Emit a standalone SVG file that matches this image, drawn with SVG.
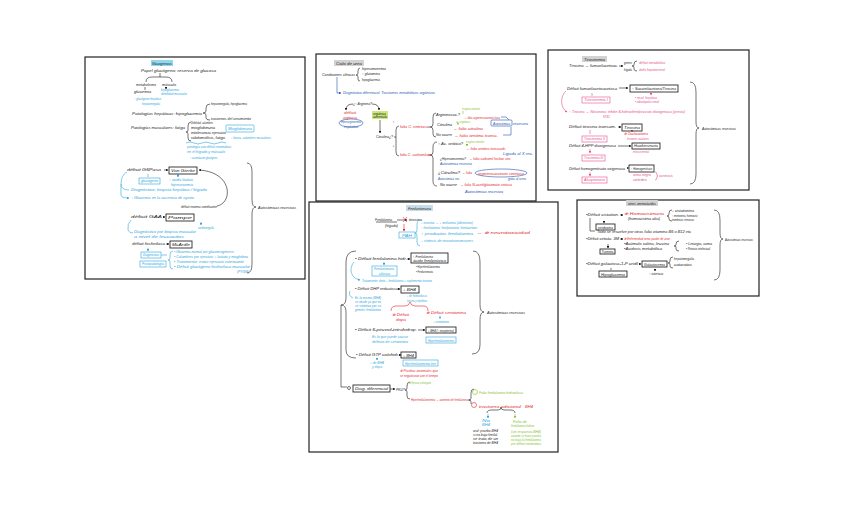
<svg xmlns="http://www.w3.org/2000/svg" width="848" height="505" viewBox="0 0 848 505">
<defs>
<style>
text{font-family:"Liberation Sans",Arial,sans-serif;font-style:italic;font-size:3.6px}
.xs{font-size:3px}
.k{fill:#1a1a1a}.c{fill:#2ea6dc}.n{fill:#2456b0}.r{fill:#e3262b}.g{fill:#86bf2f}.p{fill:#e5508c}
.sk{fill:none;stroke:#1a1a1a;stroke-width:.6}.sc{fill:none;stroke:#2ea6dc;stroke-width:.6}
.sn{fill:none;stroke:#2456b0;stroke-width:.6}.sr{fill:none;stroke:#e3262b;stroke-width:.6}
.sg{fill:none;stroke:#86bf2f;stroke-width:.6}.sp{fill:none;stroke:#e5508c;stroke-width:.6}
.bk{fill:none;stroke:#111;stroke-width:.8}.panel{fill:#fff;stroke:#222;stroke-width:1.2}
.hc{fill:#8fd8f0}.hg{fill:#d2d2d2}.hb{fill:#c9dde8}.hgr{fill:#cde87a}
</style>
<marker id="ak" viewBox="0 0 6 6" refX="5" refY="3" markerWidth="4" markerHeight="4" orient="auto"><path d="M0,0L6,3L0,6z" fill="#1a1a1a"/></marker>
<marker id="ac" viewBox="0 0 6 6" refX="5" refY="3" markerWidth="4" markerHeight="4" orient="auto"><path d="M0,0L6,3L0,6z" fill="#2ea6dc"/></marker>
<marker id="an" viewBox="0 0 6 6" refX="5" refY="3" markerWidth="4" markerHeight="4" orient="auto"><path d="M0,0L6,3L0,6z" fill="#2456b0"/></marker>
<marker id="ar" viewBox="0 0 6 6" refX="5" refY="3" markerWidth="4" markerHeight="4" orient="auto"><path d="M0,0L6,3L0,6z" fill="#e3262b"/></marker>
<marker id="ag" viewBox="0 0 6 6" refX="5" refY="3" markerWidth="4" markerHeight="4" orient="auto"><path d="M0,0L6,3L0,6z" fill="#86bf2f"/></marker>
<marker id="ap" viewBox="0 0 6 6" refX="5" refY="3" markerWidth="4" markerHeight="4" orient="auto"><path d="M0,0L6,3L0,6z" fill="#e5508c"/></marker>
</defs>
<rect width="848" height="505" fill="#fff"/>

<g id="panels">
<rect id="panel-glucogenosis" class="panel" x="85" y="57" width="220" height="222"/>
<rect id="panel-urea" class="panel" x="316" y="54" width="220" height="147"/>
<rect id="panel-tirosinemia" class="panel" x="548" y="50" width="201" height="140"/>
<rect id="panel-fenilcetonuria" class="panel" x="309" y="202" width="249" height="250"/>
<rect id="panel-otros" class="panel" x="577" y="200" width="182" height="96"/>
</g>

<g id="connectors">
<!-- panel 1 -->
<path class="sk" d="M160,73V77M146,82Q146,77 152,77H166Q172,77 172,82"/>
<path class="sk" d="M145,87V90M166,87V89" marker-end="url(#ak)"/>
<path class="sk" d="M210,104Q206,104 206,108V111Q206,113 203,113Q206,113 206,115V118Q206,120 210,120"/>
<path class="sk" d="M191,122Q188,122 188,126V130Q188,132 186,132Q188,132 188,134V138Q188,141 191,141"/>
<path class="sc" d="M186,143Q190,141 194,143T202,143T210,143T218,143T226,143"/>
<path class="sk" d="M164,170H168" marker-end="url(#ak)"/>
<path class="sk" d="M217,206C233,203 233,172 199,170" marker-end="url(#ak)"/>
<path class="sc" d="M148,174V177M178,174V177" marker-end="url(#ac)"/>
<path class="sc" d="M127,172Q121,175 121,184Q121,190 129,190M121,184V195Q121,198 129,198" marker-end="url(#ac)"/>
<path class="sk" d="M163,217H165" marker-end="url(#ak)"/>
<path class="sc" d="M201,222V225" marker-end="url(#ac)"/>
<path class="sc" d="M131,220Q127,224 128,230Q129,233 133,233"/>
<path class="sk" d="M166,244H169" marker-end="url(#ak)"/>
<path class="sc" d="M148,248V251" marker-end="url(#ac)"/>
<path class="sc" d="M161,255H167M173,251Q170,251 170,255V258Q170,260 168,260Q170,260 170,262V266Q170,269 173,269"/>
<path class="sk" d="M247,163Q252,163 252,172V200Q252,207 256,207Q252,207 252,214V264Q252,273 247,273"/>
<!-- panel 2 -->
<path class="sk" d="M360,68Q358,68 358,71V73Q358,75 356,75Q358,75 358,77V79Q358,81 360,81"/>
<path class="sn" d="M337,77V93H341" marker-end="url(#an)"/>
<path class="sk" d="M353,104Q346,104 346,110" marker-end="url(#ak)"/>
<path class="sk" d="M372,104Q379,104 379,110" marker-end="url(#ak)"/>
<path class="sn" d="M339,123a12,4 0 1,0 24,0a12,4 0 1,0 -24,0"/>
<path class="sk" d="M380,120V133" marker-end="url(#ak)"/>
<path class="sk" d="M394,137H396M399,126Q396,126 396,130V152Q396,156 399,156"/>
<path class="sk" d="M428,127H430M436,113Q433,113 433,117V124Q433,127 430,127Q433,127 433,130V134Q433,137 436,137"/>
<path class="sk" d="M428,155H430M437,142Q433,142 433,147V152Q433,155 430,155Q433,155 433,158V181Q433,186 437,186"/>
<path class="sg" d="M463,111V114M458,123.5V124.5" marker-end="url(#ag)"/>
<path class="sg" d="M467,144V146" marker-end="url(#ag)"/>
<path class="sn" d="M501,117H506L509,120M511,127V135H503"/>
<path class="sn" d="M475,173a26,4 0 1,0 52,0a26,4 0 1,0 -52,0"/>
<!-- panel 3 -->
<path class="sk" d="M619,66H623" marker-end="url(#ak)"/>
<path class="sk" d="M637,61Q634,61 634,64V65Q634,66 632,66Q634,66 634,67V69Q634,71 637,71"/>
<path class="sk" d="M619,88H628" marker-end="url(#ak)"/>
<path class="sp" d="M592,93V96M651,93V95" marker-end="url(#ap)"/>
<path class="sp" d="M566,91C560,96 560,108 567,112" marker-end="url(#ap)"/>
<path class="sk" d="M618,127H621" marker-end="url(#ak)"/>
<path class="sp" d="M590,130V134M632,131V132" marker-end="url(#ap)"/>
<path class="sk" d="M618,146H631" marker-end="url(#ak)"/>
<path class="sp" d="M590,149V153" marker-end="url(#ap)"/>
<path class="sk" d="M627,168H628.5" marker-end="url(#ak)"/>
<path class="sp" d="M590,172V176" marker-end="url(#ap)"/>
<path class="sp" d="M655,172Q657,172 657,175Q657,176 658,176Q657,176 657,177Q657,180 655,180"/>
<path class="sk" d="M690,82Q696,82 696,92V122Q696,128 699,128Q696,128 696,134V174Q696,184 690,184"/>
<!-- panel 4 -->
<path class="sk" d="M376,222H397"/>
<path class="sk" d="M397,220H407" marker-end="url(#ak)"/>
<path class="sr" d="M403,217L407,222M407,217L403,222"/>
<path class="sr" d="M404,224V231" marker-end="url(#ar)"/>
<path class="sc" d="M420,220Q417,220 417,225V230Q417,233 415,233Q417,233 417,236V242Q417,246 420,246"/>
<path class="sk" d="M356,251Q346,251 346,262V298Q346,305 341,305Q346,305 346,312V350Q346,358 356,358"/>
<path class="sk" d="M341,305V387H347"/>
<path class="sk" d="M473,251Q480,251 480,262V305Q480,312 484,312Q480,312 480,320V345Q480,354 472,354"/>
<path class="sk" d="M407,259H410" marker-end="url(#ak)"/>
<path class="sc" d="M384,262V265" marker-end="url(#ac)"/>
<path class="sc" d="M354,262C349,268 350,278 360,280" marker-end="url(#ac)"/>
<path class="sk" d="M398,289H400" marker-end="url(#ak)"/>
<path class="sc" d="M350,291Q348,296 353,298"/>
<path class="sr" d="M391,311Q391,306 396,306H405Q409,306 410,302Q411,306 415,306H424Q428,306 428,311"/>
<path class="sc" d="M440,315.5V318.5" marker-end="url(#ac)"/>
<path class="sk" d="M418,330H425" marker-end="url(#ak)"/>
<path class="sk" d="M400,355H401" marker-end="url(#ak)"/>
<path class="sc" d="M377,358V360" marker-end="url(#ac)"/>
<circle class="sk" cx="349" cy="388" r="1.5"/>
<path class="sk" d="M390,389H395" marker-end="url(#ak)"/>
<path class="sk" d="M410,382Q407,382 407,386V388Q407,390 405,390Q407,390 407,392V396Q407,399 410,399"/>
<circle class="sg" cx="475" cy="392" r="2.5"/>
<circle class="sr" cx="474" cy="405" r="2.5"/>
<path class="sk" d="M468,400H470M474,389Q471,389 471,393V398Q471,400 469,400Q471,400 471,402V404"/>
<path class="sk" d="M487,413Q487,410 492,410H498Q501,410 501,407Q501,410 504,410H510Q515,410 515,413"/>
<path class="sc" d="M488,414V418" marker-end="url(#ac)"/>
<path class="sg" d="M515,414V418" marker-end="url(#ag)"/>
<!-- panel 5 -->
<path class="sk" d="M620,215H623" marker-end="url(#ak)"/>
<path class="sk" d="M672,210Q669,210 669,213V214Q669,216 667,216Q669,216 669,218V219Q669,221 672,221"/>
<path class="sk" d="M604,221V223" marker-end="url(#ak)"/>
<path class="sk" d="M590,218V231H595"/>
<path class="sk" d="M620,239H623" marker-end="url(#ak)"/>
<path class="sk" d="M679,241Q676,241 676,244V245Q676,246 674,246Q676,246 676,247V249Q676,251 679,251"/>
<path class="sk" d="M608,244V248" marker-end="url(#ak)"/>
<path class="sk" d="M639,264H641" marker-end="url(#ak)"/>
<path class="sk" d="M673,257Q670,257 670,260V261Q670,263 668,263Q670,263 670,264V266Q670,268 673,268"/>
<path class="sk" d="M611,268V270M655,269V271" marker-end="url(#ak)"/>
<path class="sk" d="M714,210Q720,210 720,220V233Q720,239 723,239Q720,239 720,245V270Q720,280 714,280"/>
</g>

<!-- panel 1 nodes -->
<g id="p1-title"><rect class="hc" x="151" y="60" width="22" height="6"/><text class="k" x="152" y="65" textLength="20" lengthAdjust="spacingAndGlyphs">Glucogenosis</text></g>
<g id="p1-papel"><text class="k" x="141" y="72" textLength="75" lengthAdjust="spacingAndGlyphs">Papel glucógeno: reserva de glucosa</text>
<text class="k" x="136" y="86" textLength="20" lengthAdjust="spacingAndGlyphs">metabolismo</text>
<text class="k" x="162" y="86" textLength="14" lengthAdjust="spacingAndGlyphs">músculo</text>
<text class="k" x="134" y="93" textLength="17" lengthAdjust="spacingAndGlyphs">glucemia</text>
<text class="c" x="161" y="90.5" textLength="18" lengthAdjust="spacingAndGlyphs">hipoglucemia</text>
<text class="c" x="161" y="95" textLength="26" lengthAdjust="spacingAndGlyphs">debilidad muscular</text>
<text class="c" x="134" y="100" textLength="27" lengthAdjust="spacingAndGlyphs">↑ glucógeno hepático</text>
<text class="c" x="142" y="104.5" textLength="18" lengthAdjust="spacingAndGlyphs">hepatomegalia</text></g>
<g id="p1-hepaticas"><text class="k" x="132" y="115" textLength="70" lengthAdjust="spacingAndGlyphs">Patologías hepáticas: hipoglucemia</text>
<text class="k" x="211" y="105" textLength="36" lengthAdjust="spacingAndGlyphs">hepatomegalia, hipoglucemia</text>
<text class="k" x="211" y="119.5" textLength="40" lengthAdjust="spacingAndGlyphs">trastornos del crecimiento</text></g>
<g id="p1-musculares"><text class="k" x="131" y="129" textLength="54" lengthAdjust="spacingAndGlyphs">Patologías musculares: fatiga</text>
<text class="k" x="191" y="124" textLength="22" lengthAdjust="spacingAndGlyphs">Debilidad, calambres</text>
<text class="k" x="191" y="129" textLength="24" lengthAdjust="spacingAndGlyphs">mioglobinuria</text>
<text class="k" x="191" y="134" textLength="35" lengthAdjust="spacingAndGlyphs">intolerancia ejercicio</text>
<text class="k" x="191" y="139" textLength="34" lengthAdjust="spacingAndGlyphs">rabdomiólisis, fatiga</text>
<rect x="226" y="125" width="28" height="7" rx="1" class="sc"/><text class="c" x="228" y="130" textLength="24" lengthAdjust="spacingAndGlyphs">Mioglobinuria</text>
<text class="c" x="231" y="138.5" textLength="40" lengthAdjust="spacingAndGlyphs">↓ fuerza, calambres musculares</text>
<text class="c" x="187" y="148" textLength="44" lengthAdjust="spacingAndGlyphs">patología con déficit enzimático</text>
<text class="c" x="187" y="153" textLength="38" lengthAdjust="spacingAndGlyphs">en el hígado y músculo</text>
<text class="c" x="190" y="159" textLength="27" lengthAdjust="spacingAndGlyphs">↑ acumulación glucógeno</text></g>
<g id="p1-vongierke"><text class="k" x="127" y="171" textLength="34" lengthAdjust="spacingAndGlyphs">déficit G6Pasa</text>
<rect class="bk" x="169" y="167" width="28" height="7"/><text class="k" x="171" y="172" textLength="24" lengthAdjust="spacingAndGlyphs">Von Gierke</text>
<rect class="sc" x="139" y="178" width="21" height="6"/><text class="c" x="141" y="182" textLength="17" lengthAdjust="spacingAndGlyphs">glucógeno</text>
<text class="c" x="169" y="181" textLength="24" lengthAdjust="spacingAndGlyphs">↑ ácido láctico</text>
<text class="c" x="171" y="186" textLength="22" lengthAdjust="spacingAndGlyphs">hiperuricemia</text>
<text class="c" x="131" y="191" textLength="76" lengthAdjust="spacingAndGlyphs">Diagnóstico: biopsia hepática / hígado</text>
<text class="c" x="131" y="199" textLength="63" lengthAdjust="spacingAndGlyphs">↑ Glucemia en la ausencia de ayuno</text>
<text class="k" x="181" y="208" textLength="36" lengthAdjust="spacingAndGlyphs">déficit enzima ramificante</text></g>
<g id="p1-pompe"><text class="k" x="131" y="218" textLength="31" lengthAdjust="spacingAndGlyphs">déficit GAA</text>
<rect class="bk" x="166" y="214" width="28" height="7"/><text class="k" x="168" y="219" textLength="24" lengthAdjust="spacingAndGlyphs">Pompe</text>
<text class="c" x="198" y="229" textLength="16" lengthAdjust="spacingAndGlyphs">cardiomegalia</text>
<text class="c" x="134" y="233" textLength="62" lengthAdjust="spacingAndGlyphs">Diagnóstico por biopsia muscular</text>
<text class="c" x="134" y="238" textLength="50" lengthAdjust="spacingAndGlyphs">a nivel de leucocitos</text></g>
<g id="p1-mcardle"><text class="k" x="132" y="245" textLength="33" lengthAdjust="spacingAndGlyphs">déficit fosforilasa</text>
<rect class="bk" x="170" y="241" width="22" height="7"/><text class="k" x="172" y="246" textLength="18" lengthAdjust="spacingAndGlyphs">McArdle</text>
<rect class="sc" x="141" y="252" width="20" height="6"/><text class="c" x="143" y="256" textLength="16" lengthAdjust="spacingAndGlyphs">Diagnóstico</text>
<rect class="sc" x="140" y="261" width="26" height="6"/><text class="c" x="142" y="265" textLength="22" lengthAdjust="spacingAndGlyphs">Fisiopatología</text>
<text class="c" x="174" y="253" textLength="60" lengthAdjust="spacingAndGlyphs">• Glucemia normal por gluconeogénesis</text>
<text class="c" x="174" y="258" textLength="74" lengthAdjust="spacingAndGlyphs">• Calambres por ejercicio: ↓ lactato y mioglobina</text>
<text class="c" x="174" y="263" textLength="70" lengthAdjust="spacingAndGlyphs">• Tratamiento: evitar ejercicio extenuante</text>
<text class="c" x="174" y="268" textLength="76" lengthAdjust="spacingAndGlyphs">• Déficit glucógeno fosforilasa muscular</text>
<text class="c" x="237" y="273" textLength="12" lengthAdjust="spacingAndGlyphs">(PYGM)</text></g>
<g id="p1-herencia"><text class="k" x="258" y="209" textLength="38" lengthAdjust="spacingAndGlyphs">Autosómicas recesivas</text></g>

<!-- panel 2 nodes -->
<g id="p2-title"><rect class="hg" x="334" y="60" width="30" height="6"/><text class="k" x="336" y="65" textLength="26" lengthAdjust="spacingAndGlyphs">Ciclo de urea</text></g>
<g id="p2-clinica"><text class="k" x="322" y="76" textLength="33" lengthAdjust="spacingAndGlyphs">Condiciones clínicas</text>
<text class="k" x="362" y="70" textLength="24" lengthAdjust="spacingAndGlyphs">hiperamonemia</text>
<text class="k" x="362" y="75" textLength="18" lengthAdjust="spacingAndGlyphs">↑ glutamina</text>
<text class="k" x="362" y="81" textLength="18" lengthAdjust="spacingAndGlyphs">hipoglucemia</text>
<text class="n" x="343" y="94" textLength="92" lengthAdjust="spacingAndGlyphs">Diagnóstico diferencial: Trastornos metabólicos orgánicos</text></g>
<g id="p2-arginina"><text class="k" x="353" y="105" textLength="19" lengthAdjust="spacingAndGlyphs">¿↑ Arginina?</text>
<text class="r" x="344" y="114" textLength="12" lengthAdjust="spacingAndGlyphs">déficit</text>
<text class="r" x="343" y="118.5" textLength="14" lengthAdjust="spacingAndGlyphs">arginasa</text>
<text class="n" x="341" y="123" textLength="20" lengthAdjust="spacingAndGlyphs">Hiperargininemia</text>
<text class="n" x="344" y="127.5" textLength="14" lengthAdjust="spacingAndGlyphs">espástica</text>
<rect class="hgr" x="372" y="111" width="16" height="8"/><text class="k xs" x="373" y="114.5" textLength="13" lengthAdjust="spacingAndGlyphs">orgánico</text><text class="k xs" x="373" y="118" textLength="14" lengthAdjust="spacingAndGlyphs">aumentado</text>
<text class="k" x="376" y="138" textLength="17" lengthAdjust="spacingAndGlyphs">Citrulina¿?</text>
<text class="r" x="392" y="123" textLength="3" lengthAdjust="spacingAndGlyphs">↑</text>
<text class="r" x="400" y="128" textLength="28" lengthAdjust="spacingAndGlyphs">falta C. sintetasa</text>
<text class="r" x="392" y="147" textLength="3" lengthAdjust="spacingAndGlyphs">↓</text>
<text class="r" x="400" y="156" textLength="32" lengthAdjust="spacingAndGlyphs">falta C. carbamilasa</text></g>
<g id="p2-upper"><text class="k" x="436" y="116" textLength="24" lengthAdjust="spacingAndGlyphs">Argininosuc.?</text>
<text class="g" x="462" y="110" textLength="18" lengthAdjust="spacingAndGlyphs">⊕ orgánico aumentado</text>
<text class="r" x="464" y="118.5" textLength="36" lengthAdjust="spacingAndGlyphs">→ falta argininosuccinato liasa</text>
<text class="k" x="437" y="126" textLength="15" lengthAdjust="spacingAndGlyphs">Citrulina</text>
<text class="g xs" x="456" y="123" textLength="14" lengthAdjust="spacingAndGlyphs">⊕ orgánico</text>
<text class="r" x="453" y="129.5" textLength="30" lengthAdjust="spacingAndGlyphs">→ falta citrulina</text>
<rect class="sn" x="491" y="120" width="21" height="6" rx="1"/><text class="n" x="493" y="124.5" textLength="17" lengthAdjust="spacingAndGlyphs">Autosómica</text>
<text class="n" x="513" y="124.5" textLength="15" lengthAdjust="spacingAndGlyphs">recesiva</text>
<text class="k" x="436" y="136" textLength="16" lengthAdjust="spacingAndGlyphs">No ocurre</text>
<text class="r" x="454" y="137" textLength="44" lengthAdjust="spacingAndGlyphs">→ falta ornitina transc.</text></g>
<g id="p2-lower"><text class="k" x="438" y="145" textLength="25" lengthAdjust="spacingAndGlyphs">↑ Ac. orótico?</text>
<text class="g" x="466" y="143" textLength="18" lengthAdjust="spacingAndGlyphs">⊕ orgánico aumentado</text>
<text class="r" x="466" y="150" textLength="40" lengthAdjust="spacingAndGlyphs">→ falta ornitina transcarb.</text>
<text class="n" x="503" y="155" textLength="30" lengthAdjust="spacingAndGlyphs">Ligada al X rec.</text>
<text class="k" x="440" y="160" textLength="26" lengthAdjust="spacingAndGlyphs">¿Hiperamonemia?</text>
<text class="r" x="469" y="160" textLength="42" lengthAdjust="spacingAndGlyphs">→ falta carbamil fosfato sint.</text>
<text class="n" x="440" y="165" textLength="32" lengthAdjust="spacingAndGlyphs">Autosómica recesiva</text>
<text class="k" x="438" y="174" textLength="22" lengthAdjust="spacingAndGlyphs">¿Citrulina?</text>
<text class="r" x="462" y="174" textLength="10" lengthAdjust="spacingAndGlyphs">→ falta</text>
<text class="r" x="478" y="174.5" textLength="46" lengthAdjust="spacingAndGlyphs">argininosuccinato sintetasa</text>
<text class="n" x="508" y="180" textLength="18" lengthAdjust="spacingAndGlyphs">gota al cero</text>
<text class="n" x="438" y="180" textLength="22" lengthAdjust="spacingAndGlyphs">Autosómica rec.</text>
<text class="k" x="440" y="186" textLength="17" lengthAdjust="spacingAndGlyphs">No ocurre</text>
<text class="r" x="460" y="186" textLength="52" lengthAdjust="spacingAndGlyphs">→ falta N-acetilglutamato sintasa</text>
<text class="n" x="465" y="193" textLength="38" lengthAdjust="spacingAndGlyphs">Autosómica recesiva</text></g>

<!-- panel 3 nodes -->
<g id="p3-title"><rect class="hg" x="582" y="56" width="25" height="6"/><text class="k" x="584" y="61" textLength="21" lengthAdjust="spacingAndGlyphs">Tirosinemia</text></g>
<g id="p3-tirosina"><text class="k" x="569" y="67" textLength="49" lengthAdjust="spacingAndGlyphs">Tirosina → fumarilacetoac.</text>
<text class="k xs" x="624" y="64" textLength="8" lengthAdjust="spacingAndGlyphs">genes</text>
<text class="k xs" x="624" y="71" textLength="8" lengthAdjust="spacingAndGlyphs">hígado</text>
<text class="p" x="639" y="64" textLength="26" lengthAdjust="spacingAndGlyphs">déficit metabólico</text>
<text class="p" x="639" y="71" textLength="26" lengthAdjust="spacingAndGlyphs">daño hepatorrenal</text></g>
<g id="p3-tipo1"><text class="k" x="567" y="90" textLength="50" lengthAdjust="spacingAndGlyphs">Déficit fumarilacetoacetasa</text>
<rect class="bk" x="630" y="85" width="48" height="7"/><text class="k" x="632" y="90" textLength="44" lengthAdjust="spacingAndGlyphs">↑ Succinilacetona/Tirosina</text>
<rect class="sp" x="582" y="97" width="28" height="6"/><text class="p" x="584" y="101" textLength="24" lengthAdjust="spacingAndGlyphs">Tirosinemia I</text>
<text class="p" x="635" y="98.5" textLength="22" lengthAdjust="spacingAndGlyphs">• insuf. hepática</text>
<text class="p" x="635" y="103" textLength="24" lengthAdjust="spacingAndGlyphs">• tubulopatía renal</text>
<text class="p" x="569" y="113" textLength="116" lengthAdjust="spacingAndGlyphs">↑ Tirosina → Nitisinona: inhibe 4-hidroxifenilpiruvato dioxigenasa (previa)</text>
<text class="p" x="603" y="117.5" textLength="7" lengthAdjust="spacingAndGlyphs">NTBC</text></g>
<g id="p3-tipo2"><text class="k" x="569" y="128" textLength="47" lengthAdjust="spacingAndGlyphs">Déficit tirosina transam.</text>
<rect class="bk" x="622" y="124" width="20" height="7"/><text class="k" x="624" y="129" textLength="16" lengthAdjust="spacingAndGlyphs">Tirosina</text>
<text class="r" x="624" y="135" textLength="24" lengthAdjust="spacingAndGlyphs">⊕ Oculocutánea</text>
<text class="p" x="627" y="139.5" textLength="22" lengthAdjust="spacingAndGlyphs">lesiones oculares</text>
<rect class="sp" x="582" y="136" width="25" height="6"/><text class="p" x="584" y="140" textLength="21" lengthAdjust="spacingAndGlyphs">Tirosinemia II</text></g>
<g id="p3-tipo3"><text class="k" x="569" y="147" textLength="47" lengthAdjust="spacingAndGlyphs">Déficit 4-HPP dioxigenasa</text>
<rect class="bk" x="632" y="143" width="28" height="6"/><text class="k" x="634" y="147" textLength="24" lengthAdjust="spacingAndGlyphs">Hawkinsinuria</text>
<text class="p" x="633" y="153" textLength="16" lengthAdjust="spacingAndGlyphs">retraso mental</text>
<rect class="sp" x="582" y="155" width="23" height="6"/><text class="p" x="584" y="159" textLength="19" lengthAdjust="spacingAndGlyphs">Tirosinemia III</text></g>
<g id="p3-alcaptonuria"><text class="k" x="569" y="170" textLength="56" lengthAdjust="spacingAndGlyphs">Déficit homogentisato oxigenasa</text>
<rect class="bk" x="629" y="165" width="25" height="7"/><text class="k" x="631" y="170" textLength="21" lengthAdjust="spacingAndGlyphs">↑ Homogentísico</text>
<text class="p" x="633" y="176" textLength="18" lengthAdjust="spacingAndGlyphs">orina negra</text>
<text class="p" x="633" y="180.5" textLength="14" lengthAdjust="spacingAndGlyphs">artritis</text>
<text class="p" x="659" y="177" textLength="14" lengthAdjust="spacingAndGlyphs">ocronosis</text>
<rect class="sp" x="582" y="177" width="25" height="6"/><text class="p" x="584" y="181" textLength="21" lengthAdjust="spacingAndGlyphs">Alcaptonuria</text></g>
<g id="p3-herencia"><text class="k" x="702" y="130" textLength="34" lengthAdjust="spacingAndGlyphs">Autosómicas recesivas</text></g>

<!-- panel 4 nodes -->
<g id="p4-title"><rect class="hb" x="406" y="205" width="27" height="6"/><text class="k" x="408" y="210" textLength="23" lengthAdjust="spacingAndGlyphs">Fenilcetonuria</text></g>
<g id="p4-fenilalanina"><text class="k" x="375" y="221" textLength="17" lengthAdjust="spacingAndGlyphs">Fenilalanina</text>
<text class="k" x="385" y="227" textLength="13" lengthAdjust="spacingAndGlyphs">(hígado)</text>
<text class="k" x="409" y="221" textLength="13" lengthAdjust="spacingAndGlyphs">tirosina</text>
<rect class="sc" x="399" y="232" width="16" height="6"/><text class="c" x="402" y="236.5" textLength="10" lengthAdjust="spacingAndGlyphs">PAH</text>
<text class="c" x="421" y="224" textLength="52" lengthAdjust="spacingAndGlyphs">↓ tirosina → ↓ melanina (albinismo)</text>
<text class="c" x="421" y="229" textLength="56" lengthAdjust="spacingAndGlyphs">↑ fenilalanina: fenilpiruvato, fenilacetato</text>
<text class="c" x="421" y="235" textLength="52" lengthAdjust="spacingAndGlyphs">↑ productos fenilalanina</text>
<text class="r" x="476" y="234" textLength="54" lengthAdjust="spacingAndGlyphs">→ ⊕ neurotoxicidad</text>
<text class="c" x="421" y="242" textLength="52" lengthAdjust="spacingAndGlyphs">↓ síntesis de neurotransmisores</text></g>
<g id="p4-pah"><text class="k" x="355" y="260" textLength="52" lengthAdjust="spacingAndGlyphs">• Déficit fenilalanina hidr.</text>
<rect class="bk" x="411" y="253" width="37" height="10"/><text class="k" x="413" y="257.5" textLength="20" lengthAdjust="spacingAndGlyphs">↑ Fenilalanina</text><text class="k" x="413" y="262" textLength="33" lengthAdjust="spacingAndGlyphs">ácido fenilpirúvico</text>
<text class="k" x="416" y="268" textLength="24" lengthAdjust="spacingAndGlyphs">• Hiperfenilalaninemia</text>
<text class="k" x="416" y="273" textLength="17" lengthAdjust="spacingAndGlyphs">• Fenilcetonuria</text>
<rect class="sc" x="372" y="266" width="25" height="10"/><text class="c" x="374" y="270" textLength="20" lengthAdjust="spacingAndGlyphs">Fenilcetonuria</text><text class="c" x="379" y="275" textLength="11" lengthAdjust="spacingAndGlyphs">clásica</text>
<text class="c" x="362" y="281.5" textLength="70" lengthAdjust="spacingAndGlyphs">Tratamiento: dieta ↓ fenilalanina + suplemento tirosina</text></g>
<g id="p4-dhpr"><text class="k" x="355" y="290" textLength="43" lengthAdjust="spacingAndGlyphs">• Déficit DHP reductasa</text>
<rect class="bk" x="401" y="286" width="18" height="7"/><text class="k" x="403" y="291" textLength="13" lengthAdjust="spacingAndGlyphs">↓ BH4</text>
<text class="c" x="407" y="297.3" textLength="20" lengthAdjust="spacingAndGlyphs">↓ de hidroxilasas</text>
<text class="c" x="407" y="301.6" textLength="20" lengthAdjust="spacingAndGlyphs">tirosina y triptófano</text>
<text class="c" x="355" y="298.8" textLength="26" lengthAdjust="spacingAndGlyphs">Es lo mismo (BH4)</text>
<text class="c" x="355" y="303" textLength="26" lengthAdjust="spacingAndGlyphs">se añade ya que no</text>
<text class="c" x="355" y="307.2" textLength="26" lengthAdjust="spacingAndGlyphs">se sintetiza por su</text>
<text class="c" x="355" y="311.4" textLength="26" lengthAdjust="spacingAndGlyphs">gemela: fenilalanina</text>
<text class="r" x="392" y="316" textLength="17" lengthAdjust="spacingAndGlyphs">⊕ Déficit</text>
<text class="r" x="396" y="321" textLength="10" lengthAdjust="spacingAndGlyphs">dopa</text>
<text class="r" x="426" y="314" textLength="40" lengthAdjust="spacingAndGlyphs">⊕ Déficit serotonina</text>
<text class="c" x="433" y="323" textLength="16" lengthAdjust="spacingAndGlyphs">↓ serotonina</text></g>
<g id="p4-ptps"><text class="k" x="355" y="331" textLength="62" lengthAdjust="spacingAndGlyphs">• Déficit 6-piruvoil-tetrahidrop.</text>
<rect class="bk" x="426" y="327" width="30" height="6"/><text class="k" x="428" y="331.5" textLength="26" lengthAdjust="spacingAndGlyphs">↓ BH4 (↑ neopterina)</text>
<text class="c" x="372" y="338" textLength="36" lengthAdjust="spacingAndGlyphs">Es lo que puede causar</text>
<text class="c" x="372" y="343" textLength="36" lengthAdjust="spacingAndGlyphs">defecto de serotonina</text>
<rect class="sc" x="426" y="337" width="30" height="6"/><text class="c" x="428" y="341.5" textLength="26" lengthAdjust="spacingAndGlyphs">Hiperfenilalaninemia</text></g>
<g id="p4-gtp"><text class="k" x="356" y="356" textLength="43" lengthAdjust="spacingAndGlyphs">• Déficit GTP ciclohidr.</text>
<rect class="bk" x="401" y="352" width="15" height="6"/><text class="k" x="403" y="356.5" textLength="11" lengthAdjust="spacingAndGlyphs">↓ BH4</text>
<text class="c" x="370" y="364" textLength="14" lengthAdjust="spacingAndGlyphs">↓ de BH4</text>
<text class="c" x="372" y="368.3" textLength="10" lengthAdjust="spacingAndGlyphs">y dopa</text>
<rect class="sc" x="403" y="360" width="35" height="6"/><text class="c" x="405" y="364.5" textLength="31" lengthAdjust="spacingAndGlyphs">Hiperfenilalaninemia leve</text>
<text class="r" x="400" y="372" textLength="38" lengthAdjust="spacingAndGlyphs">⊕ Pruebas anormales que</text>
<text class="r" x="400" y="377" textLength="38" lengthAdjust="spacingAndGlyphs">se negativizan con el tiempo</text></g>
<g id="p4-herencia"><text class="k" x="487" y="314" textLength="38" lengthAdjust="spacingAndGlyphs">Autosómicas recesivas</text></g>
<g id="p4-diagnostico"><rect class="bk" x="353" y="385" width="37" height="7"/><text class="k" x="355" y="390" textLength="33" lengthAdjust="spacingAndGlyphs">Diag. diferencial</text>
<text class="k" x="396" y="391" textLength="9" lengthAdjust="spacingAndGlyphs">PKU?</text>
<text class="g" x="409" y="384" textLength="22" lengthAdjust="spacingAndGlyphs">⊕ Ejercicio prolongado</text>
<text class="r" x="411" y="401" textLength="57" lengthAdjust="spacingAndGlyphs">Hiperfenilalaninemia → aumento de fenilalanina</text>
<text class="g" x="479" y="393.5" textLength="44" lengthAdjust="spacingAndGlyphs">Falta fenilalanina hidroxilasa</text>
<text class="r" x="479" y="408" textLength="42" lengthAdjust="spacingAndGlyphs">trastorno adicional</text>
<text class="r" x="525" y="408" textLength="8" lengthAdjust="spacingAndGlyphs">BH4</text>
<text class="c" x="482" y="422" textLength="8" lengthAdjust="spacingAndGlyphs">No</text>
<text class="c" x="482" y="426.3" textLength="8" lengthAdjust="spacingAndGlyphs">BH4</text>
<text class="k" x="473" y="431.5" textLength="25" lengthAdjust="spacingAndGlyphs">oral: prueba BH4</text>
<text class="k" x="473" y="435.7" textLength="25" lengthAdjust="spacingAndGlyphs">si no baja fenilal.</text>
<text class="k" x="473" y="439.9" textLength="25" lengthAdjust="spacingAndGlyphs">se trata de un</text>
<text class="k" x="473" y="444.1" textLength="25" lengthAdjust="spacingAndGlyphs">trastorno de BH4</text>
<text class="g" x="513" y="423" textLength="14" lengthAdjust="spacingAndGlyphs">Falta de</text>
<text class="g" x="511" y="427.2" textLength="24" lengthAdjust="spacingAndGlyphs">fenilalanina hidrox.</text>
<text class="g" x="511" y="432.5" textLength="30" lengthAdjust="spacingAndGlyphs">(sin respuesta BH4)</text>
<text class="g" x="511" y="436.7" textLength="30" lengthAdjust="spacingAndGlyphs">cuando se hace prueba</text>
<text class="g" x="511" y="440.9" textLength="30" lengthAdjust="spacingAndGlyphs">no baja la fenilalanina</text>
<text class="g" x="511" y="445.1" textLength="30" lengthAdjust="spacingAndGlyphs">por déficit enzimático</text></g>

<!-- panel 5 nodes -->
<g id="p5-title"><rect class="hg" x="626" y="200" width="32" height="6"/><text class="k" x="628" y="205" textLength="28" lengthAdjust="spacingAndGlyphs">otros aminoácidos</text></g>
<g id="p5-homocistinuria"><text class="k" x="586" y="216" textLength="33" lengthAdjust="spacingAndGlyphs">•Déficit cistation.</text>
<text class="r" x="624" y="215" textLength="40" lengthAdjust="spacingAndGlyphs">⊕ Homocistinuria</text>
<text class="k" x="628" y="220" textLength="32" lengthAdjust="spacingAndGlyphs">(homocistina alta)</text>
<text class="k" x="672" y="212" textLength="22" lengthAdjust="spacingAndGlyphs">↓ cistationina</text>
<text class="k" x="672" y="216.5" textLength="26" lengthAdjust="spacingAndGlyphs">↑ metionina, homocist.</text>
<text class="k" x="672" y="221" textLength="22" lengthAdjust="spacingAndGlyphs">trombosis venosas</text>
<rect class="bk" x="596" y="224" width="19" height="6"/><text class="k" x="598" y="228.5" textLength="15" lengthAdjust="spacingAndGlyphs">piridoxina</text>
<text class="k" x="597" y="233" textLength="94" lengthAdjust="spacingAndGlyphs">Todo se resuelve por otras falta vitamina B6 o B12 etc</text></g>
<g id="p5-msud"><text class="k" x="586" y="240" textLength="33" lengthAdjust="spacingAndGlyphs">•Déficit cetoác. 3M</text>
<text class="r" x="624" y="240" textLength="46" lengthAdjust="spacingAndGlyphs">⊕ Enfermedad orina jarabe de arce</text>
<text class="k" x="624" y="245" textLength="45" lengthAdjust="spacingAndGlyphs">•Acúmulo valina, leucina</text>
<text class="k" x="624" y="250" textLength="38" lengthAdjust="spacingAndGlyphs">•Acidosis metabólica</text>
<text class="k" x="686" y="245" textLength="26" lengthAdjust="spacingAndGlyphs">• Letargia, coma</text>
<text class="k" x="686" y="250" textLength="24" lengthAdjust="spacingAndGlyphs">• Retraso intelectual</text>
<rect class="bk" x="600" y="249" width="15" height="5"/><text class="k" x="601.5" y="253" textLength="12" lengthAdjust="spacingAndGlyphs">Tiamina</text></g>
<g id="p5-galactosemia"><text class="k" x="586" y="265" textLength="52" lengthAdjust="spacingAndGlyphs">•Déficit galactosa-1-P uridil</text>
<rect class="bk" x="642" y="261" width="25" height="6"/><text class="k" x="644" y="265.5" textLength="21" lengthAdjust="spacingAndGlyphs">Galactosemia</text>
<text class="k" x="674" y="260" textLength="20" lengthAdjust="spacingAndGlyphs">hepatomegalia</text>
<text class="k" x="674" y="266" textLength="18" lengthAdjust="spacingAndGlyphs">cataratas</text>
<rect class="bk" x="599" y="271" width="28" height="6"/><text class="k" x="601" y="275.5" textLength="24" lengthAdjust="spacingAndGlyphs">Hipoglucemia</text>
<text class="k" x="649" y="275" textLength="14" lengthAdjust="spacingAndGlyphs">↑ ictericia</text></g>
<g id="p5-herencia"><text class="k xs" x="725" y="241" textLength="28" lengthAdjust="spacingAndGlyphs">Autosómicas recesivas</text></g>
</svg>
